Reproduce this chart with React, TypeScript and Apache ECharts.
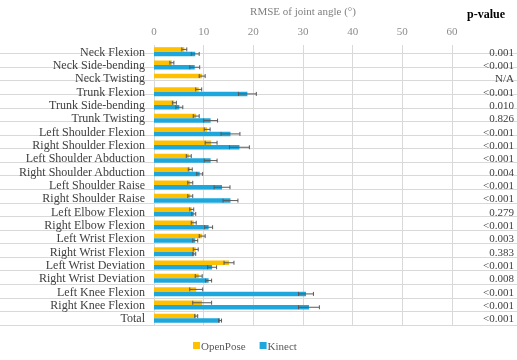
import React, { useEffect, useRef } from "react";
import * as echarts from "echarts";

const categories = [
  "Neck Flexion", "Neck Side-bending", "Neck Twisting", "Trunk Flexion", "Trunk Side-bending",
  "Trunk Twisting", "Left Shoulder Flexion", "Right Shoulder Flexion", "Left Shoulder Abduction",
  "Right Shoulder Abduction", "Left Shoulder Raise", "Right Shoulder Raise", "Left Elbow Flexion",
  "Right Elbow Flexion", "Left Wrist Flexion", "Right Wrist Flexion", "Left Wrist Deviation",
  "Right Wrist Deviation", "Left Knee Flexion", "Right Knee Flexion", "Total",
];
const pValues = [
  "0.001", "<0.001", "N/A", "<0.001", "0.010", "0.826", "<0.001", "<0.001", "<0.001", "0.004",
  "<0.001", "<0.001", "0.279", "<0.001", "0.003", "0.383", "<0.001", "0.008", "<0.001", "<0.001", "<0.001",
];
const openPose = [6.1, 3.6, 9.7, 9.0, 4.1, 8.5, 10.7, 11.5, 7.0, 7.3, 7.3, 7.3, 7.6, 8.0, 9.7, 8.4, 15.1, 9.0, 8.5, 9.7, 8.5];
const openPoseErr = [0.5, 0.4, 0.6, 0.6, 0.4, 0.6, 0.6, 1.2, 0.5, 0.4, 0.5, 0.5, 0.4, 0.5, 0.6, 0.5, 1.0, 0.7, 1.3, 1.9, 0.3];
const kinect = [8.3, 8.2, null, 18.8, 5.1, 11.4, 15.4, 17.2, 11.4, 9.2, 13.7, 15.4, 8.0, 11.0, 8.3, 8.1, 11.7, 11.0, 30.6, 31.2, 13.3];
const kinectErr = [0.8, 1.0, null, 1.8, 0.7, 1.4, 1.9, 2.0, 1.3, 0.6, 1.6, 1.5, 0.4, 0.8, 0.5, 0.3, 0.9, 0.6, 1.5, 2.1, 0.3];
const xTicks = { min: 0, max: 60, interval: 10 };

const FONT = "Liberation Serif";
const BAR_W = 4.5;
const GRID = { left: 154, right: 65, top: 40, bottom: 35 };

function errSeries(vals: (number | null)[], errs: (number | null)[], offset: number) {
  const data = vals
    .map((v, i) => (v == null || errs[i] == null ? null : [v, i, errs[i]]))
    .filter((d) => d !== null);
  return {
    type: "custom",
    xAxisIndex: 0,
    yAxisIndex: 0,
    z: 5,
    silent: true,
    encode: { x: 0, y: 1 },
    data,
    renderItem: (params: any, api: any) => {
      const v = api.value(0);
      const idx = api.value(1);
      const e = api.value(2);
      const lo = api.coord([v - e, idx]);
      const hi = api.coord([v + e, idx]);
      const y = lo[1] + offset;
      const cap = 2;
      const style = { stroke: "#595959", lineWidth: 1 };
      return {
        type: "group",
        children: [
          { type: "line", shape: { x1: lo[0], y1: y, x2: hi[0], y2: y }, style },
          { type: "line", shape: { x1: lo[0], y1: y - cap, x2: lo[0], y2: y + cap }, style },
          { type: "line", shape: { x1: hi[0], y1: y - cap, x2: hi[0], y2: y + cap }, style },
        ],
      };
    },
  };
}

export default function App() {
  const ref = useRef<HTMLDivElement>(null);
  useEffect(() => {
    if (!ref.current) return;
    const chart = echarts.init(ref.current, null, { renderer: "svg" });
    const n = categories.length;
    chart.setOption({
      animation: false,
      textStyle: { fontFamily: FONT },
      title: {
        text: "p-value",
        right: 7,
        top: 3,
        textStyle: { fontFamily: FONT, fontWeight: "bold", fontSize: 12, color: "#000" },
      },
      legend: {
        bottom: 4,
        left: 188,
        itemWidth: 7,
        itemHeight: 7,
        itemGap: 14,
        icon: "rect",
        textStyle: { fontFamily: FONT, fontSize: 11, color: "#595959", padding: [0, 0, 0, -4] },
        data: ["OpenPose", "Kinect"],
      },
      grid: [
        { ...GRID },
        { left: 0, right: 0, top: GRID.top, bottom: GRID.bottom },
      ],
      xAxis: [
        {
          type: "value",
          gridIndex: 0,
          position: "top",
          min: xTicks.min,
          max: xTicks.max,
          interval: xTicks.interval,
          name: "RMSE of joint angle (°)",
          nameLocation: "middle",
          nameGap: 29,
          nameTextStyle: { fontFamily: FONT, fontSize: 11, color: "#7f7f7f" },
          axisLine: { show: false },
          axisTick: { show: false },
          axisLabel: { fontFamily: FONT, fontSize: 11, color: "#8c8c8c", margin: 9 },
          splitLine: { lineStyle: { color: "#d9d9d9", width: 1 } },
        },
        { type: "value", gridIndex: 1, show: false },
      ],
      yAxis: [
        {
          type: "category",
          gridIndex: 0,
          data: categories,
          inverse: true,
          axisLine: { show: false },
          axisTick: { show: false },
          axisLabel: { interval: 0, fontFamily: FONT, fontSize: 12, color: "#404040", margin: 9 },
          splitLine: { show: false },
        },
        {
          type: "category",
          gridIndex: 0,
          position: "right",
          data: pValues,
          inverse: true,
          axisLine: { show: false },
          axisTick: { show: false },
          axisLabel: { interval: 0, fontFamily: FONT, fontSize: 11, color: "#404040", align: "right", margin: 62 },
          splitLine: { show: false },
        },
        {
          type: "category",
          gridIndex: 1,
          data: categories,
          inverse: true,
          axisLine: { show: false },
          axisTick: { show: false },
          axisLabel: { show: false },
          splitLine: {
            show: true,
            interval: (i: number) => i > 0 && i < n,
            lineStyle: { color: "#d9d9d9", width: 1 },
          },
        },
      ],
      series: [
        {
          name: "OpenPose",
          type: "bar",
          xAxisIndex: 0,
          yAxisIndex: 0,
          data: openPose,
          barWidth: BAR_W,
          barGap: "0%",
          itemStyle: { color: "#FFC000" },
        },
        {
          name: "Kinect",
          type: "bar",
          xAxisIndex: 0,
          yAxisIndex: 0,
          data: kinect,
          barWidth: BAR_W,
          barGap: "0%",
          itemStyle: { color: "#1EA7DD" },
        },
        errSeries(openPose, openPoseErr, -BAR_W / 2),
        errSeries(kinect, kinectErr, BAR_W / 2),
      ],
    });
    return () => chart.dispose();
  }, []);
  return <div ref={ref} style={{ position: "fixed", left: 0, top: 0, width: 517, height: 360 }} />;
}
